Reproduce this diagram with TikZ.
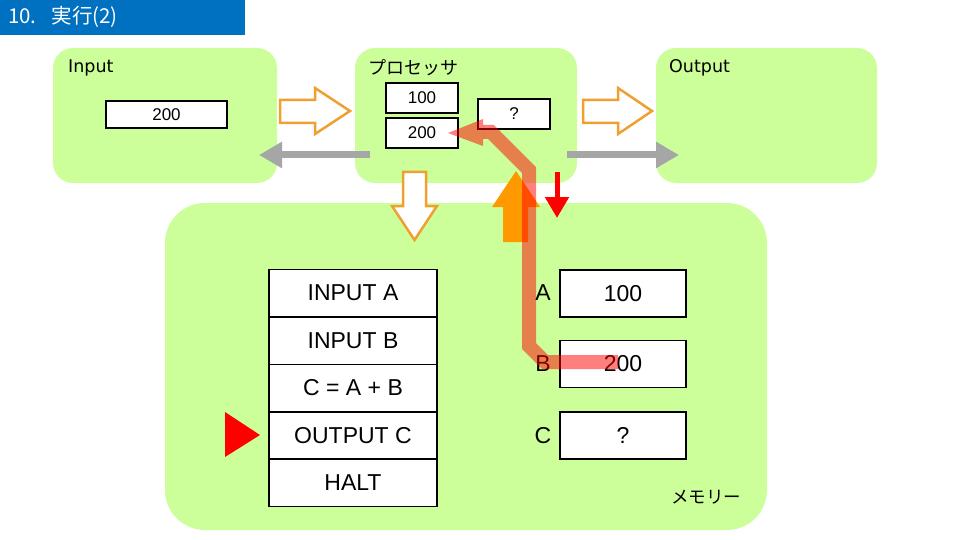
\documentclass[tikz,border=0pt]{standalone}
\usepackage{fontspec}
\setmainfont{Liberation Sans}
\newfontfamily\jpfont{Noto Sans CJK JP}
\newfontfamily\verdfont{DejaVu Sans}
\usetikzlibrary{arrows.meta}
\definecolor{panelgreen}{HTML}{CCFF99}
\definecolor{titleblue}{HTML}{0070C0}
\definecolor{hollowor}{HTML}{F0A030}
\definecolor{solidor}{HTML}{FF9900}
\definecolor{grayar}{HTML}{A6A6A6}
\begin{document}
\begin{tikzpicture}[x=1pt,y=-1pt,
  panel/.style={fill=panelgreen},
  panellabel/.style={anchor=west,inner sep=0pt,font=\verdfont\fontsize{17.5}{20}\selectfont},
  jplabel/.style={anchor=west,inner sep=0pt,font=\jpfont\fontsize{18}{20}\selectfont},
  regbox/.style={draw=black,line width=1.5pt,fill=white,minimum width=72pt,minimum height=30pt,inner sep=0pt,font=\fontsize{17}{19}\selectfont},
  rowbox/.style={draw=black,line width=1.5pt,fill=white,minimum width=168pt,minimum height=47.5pt,inner sep=0pt,font=\fontsize{23}{26}\selectfont},
  membox/.style={draw=black,line width=1.5pt,fill=white,minimum width=126pt,minimum height=47pt,inner sep=0pt,font=\fontsize{23}{26}\selectfont},
  memlabel/.style={inner sep=0pt,font=\fontsize{23}{26}\selectfont},
  hollowarrow/.style={draw=hollowor,line width=2.5pt,fill=white,line join=miter},
  grayarrow/.style={draw=grayar,line width=7pt,-{Triangle[length=23pt,width=25pt]}},
  flowpath/.style={draw=red,draw opacity=0.5,line width=14pt,line join=miter}
]
\useasboundingbox (0,0) rectangle (960,540);
% title
\fill[titleblue] (0,0) rectangle (245,35);
\node[anchor=west,inner sep=0pt,text=white,font=\jpfont\fontsize{20.5}{23}\selectfont] (title) at (8,17) {10.\hspace{15pt}実行(2)};
% panels
\path[panel,rounded corners=20pt] (53,48) rectangle (277,183);
\path[panel,rounded corners=20pt] (355,48) rectangle (577,183);
\path[panel,rounded corners=20pt] (656,48) rectangle (877,183);
\path[panel,rounded corners=40pt] (165,203) rectangle (767,530);
\node[panellabel] (inlabel) at (68,68) {Input};
\node[panellabel] (outlabel) at (669,68) {Output};
\node[jplabel] (proclabel) at (368,68) {プロセッサ};
\node[jplabel,font=\jpfont\fontsize{17.5}{20}\selectfont] (memlabeltext) at (671,497) {メモリー};
% registers
\node[regbox,minimum width=121pt,minimum height=27pt] (in200) at (166.5,114.5) {200};
\node[regbox] (p100) at (422,98) {100};
\node[regbox] (p200) at (422,133) {200};
\node[regbox] (pq) at (514,114) {?};
% hollow arrows
\draw[hollowarrow] (280,100) -- (315,100) -- (315,88) -- (350,111) -- (315,134) -- (315,123) -- (280,123) -- cycle;
\draw[hollowarrow] (583,100) -- (618,100) -- (618,88) -- (652,111) -- (618,134) -- (618,123) -- (583,123) -- cycle;
\draw[hollowarrow] (403,172) -- (426,172) -- (426,206) -- (437,206) -- (414.5,240) -- (392,206) -- (403,206) -- cycle;
% gray arrows
\coordinate (gl1) at (370,155);
\coordinate (gl2) at (259,155);
\coordinate (gr1) at (567,155);
\coordinate (gr2) at (679,155);
\draw[grayarrow] (gl1) -- (gl2);
\draw[grayarrow] (gr1) -- (gr2);
% program
\node[rowbox] (r1) at (353,293) {INPUT A};
\node[rowbox] (r2) at (353,340.5) {INPUT B};
\node[rowbox] (r3) at (353,388) {C = A + B};
\node[rowbox] (r4) at (353,435.5) {OUTPUT C};
\node[rowbox] (r5) at (353,482.5) {HALT};
\fill[red] (225,412) -- (260,435) -- (225,457) -- cycle;
% memory
\node[membox] (mA) at (623,293.5) {100};
\node[membox] (mB) at (623,364) {200};
\node[membox] (mC) at (623,435.5) {?};
\node[memlabel] (lA) at (543,293) {A};
\node[memlabel] (lB) at (543,364) {B};
\node[memlabel] (lC) at (543,436) {C};
% solid orange up arrow
\fill[solidor] (503,242) -- (528,242) -- (528,207) -- (540,207) -- (516,171) -- (492,207) -- (503,207) -- cycle;
% red down arrow
\coordinate (rd1) at (557,172);
\coordinate (rd2) at (557,218);
\draw[red,line width=5pt,-{Triangle[length=21pt,width=23pt]}] (rd1) -- (rd2);
% translucent flow path from B to processor
\coordinate (f0) at (618,362);
\coordinate (f1) at (545,362);
\coordinate (f2) at (529,346);
\coordinate (f3) at (529,170);
\coordinate (f4) at (491,132);
\coordinate (f5) at (483,132);
\draw[flowpath] (f0) -- (f1) -- (f2) -- (f3) -- (f4) -- (f5);
\fill[red,fill opacity=0.5] (483,119) -- (448,133) -- (483,146) -- cycle;
\end{tikzpicture}
\end{document}
